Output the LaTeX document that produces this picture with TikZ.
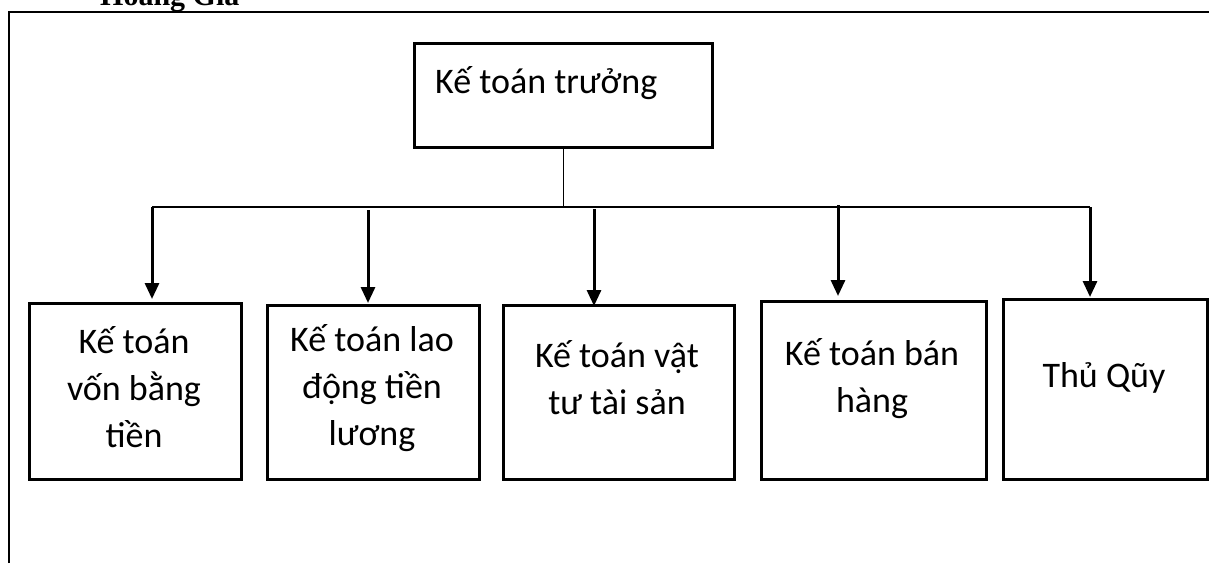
\documentclass[tikz,border=0pt]{standalone}
\usepackage{fontspec}
\setmainfont{Carlito}
\newfontfamily\headfont{Liberation Serif}
\usetikzlibrary{arrows.meta}

\tikzset{
  unitbox/.style={draw, line width=3pt, inner sep=0pt, anchor=north west},
  boxtext/.style={anchor=base, inner sep=0pt, align=center,
                  font=\fontsize{36}{47}\selectfont},
  thinline/.style={line width=1.4pt},
  arr/.style={line width=3pt, -{Triangle[width=14pt,length=16pt]}},
  frame/.style={line width=2.4pt},
}

\begin{document}
\begin{tikzpicture}[x=1pt, y=-1pt]
\useasboundingbox (0,0) rectangle (1209,563);

% heading above the frame (only its lowest part is on the page)
\node[anchor=base west, inner sep=0pt,
      font=\headfont\bfseries\fontsize{30}{36}\selectfont] (head) at (100,5) {Hoàng Gia};

% surrounding frame
\coordinate (fTL) at (9,12);
\coordinate (fTR) at (1209,12);
\coordinate (fBL) at (9,563);
\draw[frame] (fBL) -- (fTL) -- (fTR);

% chief accountant
\node[unitbox, minimum width=298pt, minimum height=104pt] (top) at (413,42) {};
\node[anchor=base west, inner sep=0pt, font=\fontsize{36}{47}\selectfont]
  (toptext) at (435,93) {Kế toán trưởng};

% departments
\node[unitbox, minimum width=212pt, minimum height=176pt] (b1) at (28,302) {};
\node[unitbox, minimum width=212pt, minimum height=174pt] (b2) at (266,304) {};
\node[unitbox, minimum width=231pt, minimum height=174pt] (b3) at (502,304) {};
\node[unitbox, minimum width=225pt, minimum height=178pt] (b4) at (760,300) {};
\node[unitbox, minimum width=204pt, minimum height=180pt] (b5) at (1002,298) {};

% text anchored at the baseline of its last line
\node[boxtext] (t1) at (134,447) {Kế toán\\vốn bằng\\tiền};
\node[boxtext] (t2) at (372,445) {Kế toán lao\\động tiền\\lương};
\node[boxtext] (t3) at (617,414) {Kế toán vật\\tư tài sản};
\node[boxtext] (t4) at (872,412) {Kế toán bán\\hàng};
\node[boxtext] (t5) at (1104,387) {Thủ Qũy};

% distribution bar
\coordinate (barL) at (152,207);
\coordinate (barR) at (1090,207);
\draw[thinline] (top.south) -- (top.south |- barL);
\draw[thinline] (barL) -- (barR);

% arrows to each department
\coordinate (c1) at (152,207);
\coordinate (c2) at (368,210);
\coordinate (c3) at (594,209);
\coordinate (c4) at (838,205);
\coordinate (c5) at (1090,207);
\draw[arr, shorten >=3pt] (c1) -- (c1 |- b1.north);
\draw[arr, shorten >=1pt] (c2) -- (c2 |- b2.north);
\draw[arr, shorten >=-2pt] (c3) -- (c3 |- b3.north);
\draw[arr, shorten >=4pt] (c4) -- (c4 |- b4.north);
\draw[arr, shorten >=1pt] (c5) -- (c5 |- b5.north);
\end{tikzpicture}
\end{document}
